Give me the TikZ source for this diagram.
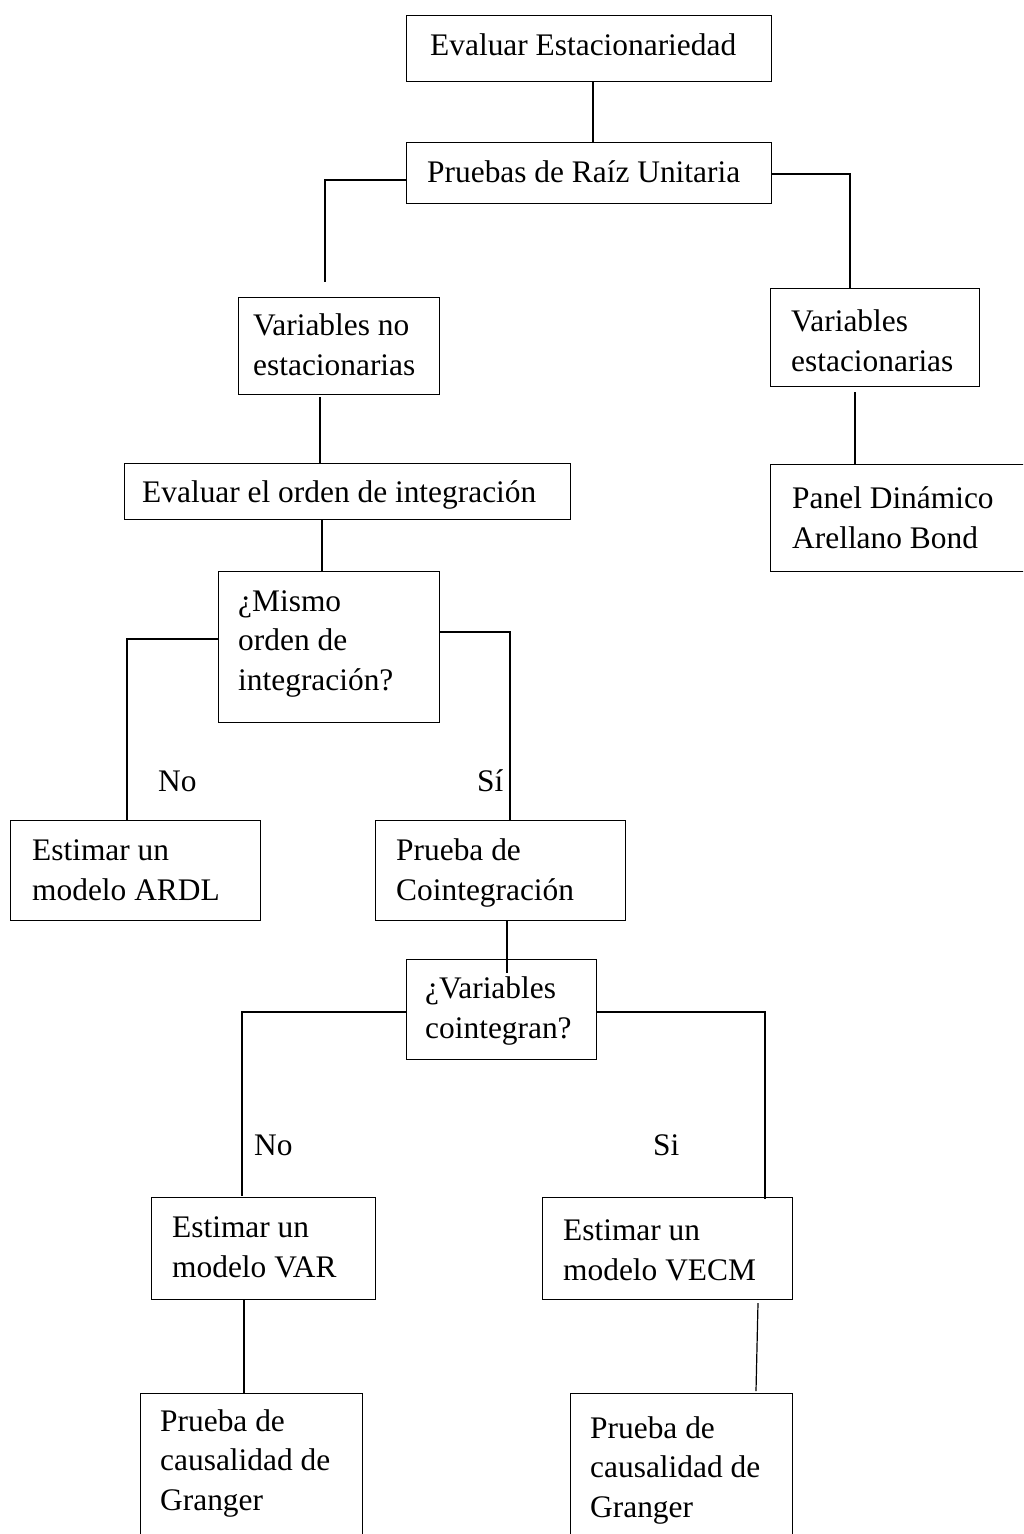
\documentclass[tikz,border=0pt]{standalone}
\usepackage{fontspec}
\setmainfont{Liberation Serif}
\begin{document}
\begin{tikzpicture}[x=1pt,y=-1pt,
  box/.style={draw=black,line width=1.2pt,inner sep=0pt,anchor=north west,rectangle},
  txt/.style={anchor=base west,align=left,inner sep=0pt,font=\fontsize{31.4}{39.5}\selectfont},
  link/.style={draw=black,line width=1.2pt}]
\useasboundingbox (0,0) rectangle (1023,1534);
\clip (0,0) rectangle (1023,1534);
% boxes
\node[box,minimum width=365pt,minimum height=66pt] (b1) at (406,15) {};
\node[box,minimum width=365pt,minimum height=61pt] (b2) at (406,142) {};
\node[box,minimum width=201pt,minimum height=97pt] (b3) at (238,297) {};
\node[box,minimum width=209pt,minimum height=98pt] (b4) at (770,288) {};
\node[box,minimum width=446pt,minimum height=56pt] (b5) at (124,463) {};
\node[box,minimum width=300pt,minimum height=107pt] (b6) at (770,464) {};
\node[box,minimum width=221pt,minimum height=151pt] (b7) at (218,571) {};
\node[box,minimum width=250pt,minimum height=100pt] (b8) at (10,820) {};
\node[box,minimum width=250pt,minimum height=100pt] (b9) at (375,820) {};
\node[box,minimum width=190pt,minimum height=100pt] (b10) at (406,959) {};
\node[box,minimum width=224pt,minimum height=102pt] (b11) at (151,1197) {};
\node[box,minimum width=250pt,minimum height=102pt] (b12) at (542,1197) {};
\node[box,minimum width=222pt,minimum height=200pt] (b13) at (140,1393) {};
\node[box,minimum width=222pt,minimum height=200pt] (b14) at (570,1393) {};
% texts (anchor = baseline of the last line)
\node[txt] (t1) at (430,55) {Evaluar Estacionariedad};
\node[txt] (t2) at (427,182) {Pruebas de Raíz Unitaria};
\node[txt] (t3) at (253,375) {Variables no\\estacionarias};
\node[txt] (t4) at (791,371) {Variables\\estacionarias};
\node[txt] (t5) at (142,502) {Evaluar el orden de integración};
\node[txt] (t6) at (792,548) {Panel Dinámico\\Arellano Bond};
\node[txt] (t7) at (238,690) {¿Mismo\\orden de\\integración?};
\node[txt] (t8) at (32,900) {Estimar un\\modelo ARDL};
\node[txt] (t9) at (396,900) {Prueba de\\Cointegración};
\node[txt] (t10) at (425,1038) {¿Variables\\cointegran?};
\node[txt] (t11) at (172,1277) {Estimar un\\modelo VAR};
\node[txt] (t12) at (563,1280) {Estimar un\\modelo VECM};
\node[txt] (t13) at (160,1510) {Prueba de\\causalidad de\\Granger};
\node[txt] (t14) at (590,1517) {Prueba de\\causalidad de\\Granger};
% branch labels
\node[txt] (n1) at (158,791) {No};
\node[txt] (s1) at (477,791) {Sí};
\node[txt] (n2) at (254,1155) {No};
\node[txt] (s2) at (653,1155) {Si};
% connectors
\draw[link] (b1.south -| 593,0) -- (b2.north -| 593,0);
\draw[link] (b2.west |- 0,180) -- (325,180) -- (325,282);
\draw[link] (b2.east |- 0,174) -- (850,174) -- (b4.north -| 850,0);
\draw[link] (320,397) -- (b5.north -| 320,0);
\draw[link] (855,392) -- (b6.north -| 855,0);
\draw[link] (b5.south -| 322,0) -- (b7.north -| 322,0);
\draw[link] (b7.west |- 0,639) -- (127,639) -- (b8.north -| 127,0);
\draw[link] (b7.east |- 0,632) -- (510,632) -- (b9.north -| 510,0);
\draw[link] (b9.south -| 507,0) -- (507,973);
\draw[link] (b10.west |- 0,1012) -- (242,1012) -- (242,1196);
\draw[link] (b10.east |- 0,1012) -- (765,1012) -- (765,1199);
\draw[link] (b11.south -| 244,0) -- (b13.north -| 244,0);
\draw[link] (758,1303) -- (756,1391);
\end{tikzpicture}
\end{document}
